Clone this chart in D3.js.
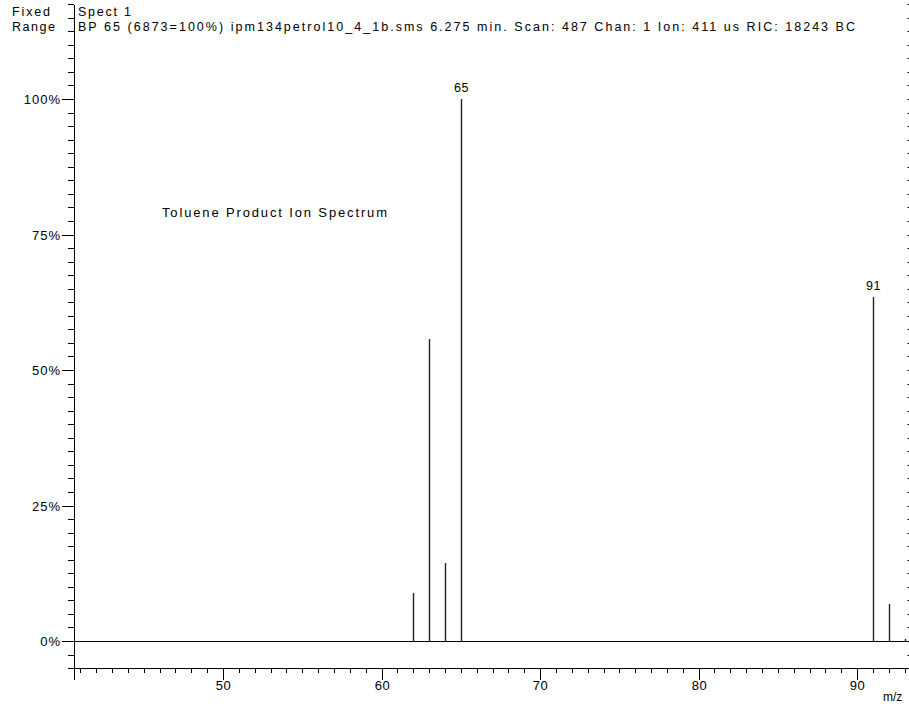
<!DOCTYPE html>
<html>
<head>
<meta charset="utf-8">
<script src="https://cdn.jsdelivr.net/npm/d3@7"></script>
<style>
  html, body { margin: 0; padding: 0; background: #fff; }
  svg { display: block; }
  text { font-family: "Liberation Sans", Arial, sans-serif; fill: #000; }
</style>
</head>
<body>
<svg id="chart" width="909" height="704"></svg>
<script>
// Product ion spectrum peaks (m/z, relative intensity in %)
const mzValues = [62, 63, 64, 65, 91, 92, 93];
const intensities = [8.8, 55.7, 14.3, 100, 63.5, 6.9, 0.4];
const labelledPeaks = [65, 91];

// Axis ticks
const xMajorTicks = [50, 60, 70, 80, 90];
const yMajorTicks = [0, 25, 50, 75, 100];
const yTickLabels = ["0%", "25%", "50%", "75%", "100%"];

// Header and annotation text
const headerLeft = ["Fixed", "Range"];
const headerRight = [
  "Spect 1",
  "BP 65 (6873=100%) ipm134petrol10_4_1b.sms 6.275 min. Scan: 487 Chan: 1 Ion: 411 us RIC: 18243 BC"
];
const plotTitle = "Toluene Product Ion Spectrum";
const xAxisTitle = "m/z";

const svg = d3.select("#chart");
const W = 909, H = 704;

const axisX = 74;        // y-axis position
const baseY = 668;       // x-axis position
const x = d3.scaleLinear().domain([40.6, 93.3]).range([axisX, 909.5]);
const y = d3.scaleLinear().domain([0, 100]).range([641, 99]);

const ink = "#000";

// ---- header block ----
const hdr = svg.append("g");
hdr.selectAll("text.left").data(headerLeft).join("text")
  .attr("class", "left")
  .attr("x", 12).attr("y", (d, i) => 16 + i * 15)
  .attr("font-size", 12.5)
  .attr("textLength", (d, i) => [38, 43][i]).attr("lengthAdjust", "spacing")
  .text(d => d);
hdr.selectAll("text.right").data(headerRight).join("text")
  .attr("class", "right")
  .attr("x", 78).attr("y", (d, i) => 16 + i * 15)
  .attr("font-size", 12.5)
  .attr("textLength", (d, i) => [53, 777][i]).attr("lengthAdjust", "spacing")
  .text(d => d);

// ---- y axis ----
const yAll = d3.range(-5, 117.6, 2.5);
svg.append("line")
  .attr("x1", axisX + 0.5).attr("x2", axisX + 0.5)
  .attr("y1", 5).attr("y2", 680)
  .attr("stroke", ink).attr("stroke-width", 1);

svg.append("g").selectAll("line").data(yAll).join("line")
  .attr("x1", d => yMajorTicks.includes(d) ? axisX - 12 : axisX - 6)
  .attr("x2", axisX)
  .attr("y1", d => Math.round(y(d)) + 0.5).attr("y2", d => Math.round(y(d)) + 0.5)
  .attr("stroke", ink).attr("stroke-width", 1);

svg.append("g").selectAll("text").data(yMajorTicks).join("text")
  .attr("x", axisX - 13)
  .attr("y", d => Math.round(y(d)) + 5)
  .attr("text-anchor", "end")
  .attr("font-size", 13)
  .attr("letter-spacing", 1)
  .text((d, i) => yTickLabels[i]);

// right-hand axis, only its tick tips show at the edge
svg.append("g").selectAll("line").data(yAll).join("line")
  .attr("x1", 907.5).attr("x2", 910)
  .attr("y1", d => Math.round(y(d)) + 0.5).attr("y2", d => Math.round(y(d)) + 0.5)
  .attr("stroke", ink).attr("stroke-width", 1);

// ---- x axis ----
svg.append("line")
  .attr("x1", axisX).attr("x2", W)
  .attr("y1", baseY + 0.5).attr("y2", baseY + 0.5)
  .attr("stroke", ink).attr("stroke-width", 1);

const xAll = d3.range(41, 94, 1);
svg.append("g").selectAll("line").data(xAll).join("line")
  .attr("x1", d => Math.round(x(d)) + 0.5).attr("x2", d => Math.round(x(d)) + 0.5)
  .attr("y1", baseY).attr("y2", d => xMajorTicks.includes(d) ? baseY + 12 : baseY + 5)
  .attr("stroke", ink).attr("stroke-width", 1);

svg.append("g").selectAll("text").data(xMajorTicks).join("text")
  .attr("x", d => Math.round(x(d)) + 0.5)
  .attr("y", 690)
  .attr("text-anchor", "middle")
  .attr("font-size", 13)
  .attr("letter-spacing", 0.5)
  .text(d => d);

svg.append("text")
  .attr("x", 883).attr("y", 701)
  .attr("font-size", 12)
  .text(xAxisTitle);

// ---- zero line ----
svg.append("line")
  .attr("x1", axisX).attr("x2", W)
  .attr("y1", y(0) + 0.5).attr("y2", y(0) + 0.5)
  .attr("stroke", ink).attr("stroke-width", 1);

// ---- peaks ----
const peaks = mzValues.map((m, i) => ({ mz: m, value: intensities[i] }));
svg.append("g").selectAll("line").data(peaks).join("line")
  .attr("x1", d => Math.round(x(d.mz)) + 0.5).attr("x2", d => Math.round(x(d.mz)) + 0.5)
  .attr("y1", y(0) + 1).attr("y2", d => Math.round(y(d.value)))
  .attr("stroke", "#222").attr("stroke-width", 1.4);

svg.append("g").selectAll("text")
  .data(peaks.filter(d => labelledPeaks.includes(d.mz))).join("text")
  .attr("x", d => Math.round(x(d.mz)) + 0.5)
  .attr("y", d => y(d.value) - 7)
  .attr("text-anchor", "middle")
  .attr("font-size", 12.5)
  .attr("letter-spacing", 0.5)
  .text(d => d.mz);

// ---- annotation ----
svg.append("text")
  .attr("x", 162).attr("y", 217)
  .attr("font-size", 13)
  .attr("textLength", 225).attr("lengthAdjust", "spacing")
  .text(plotTitle);
</script>
</body>
</html>
